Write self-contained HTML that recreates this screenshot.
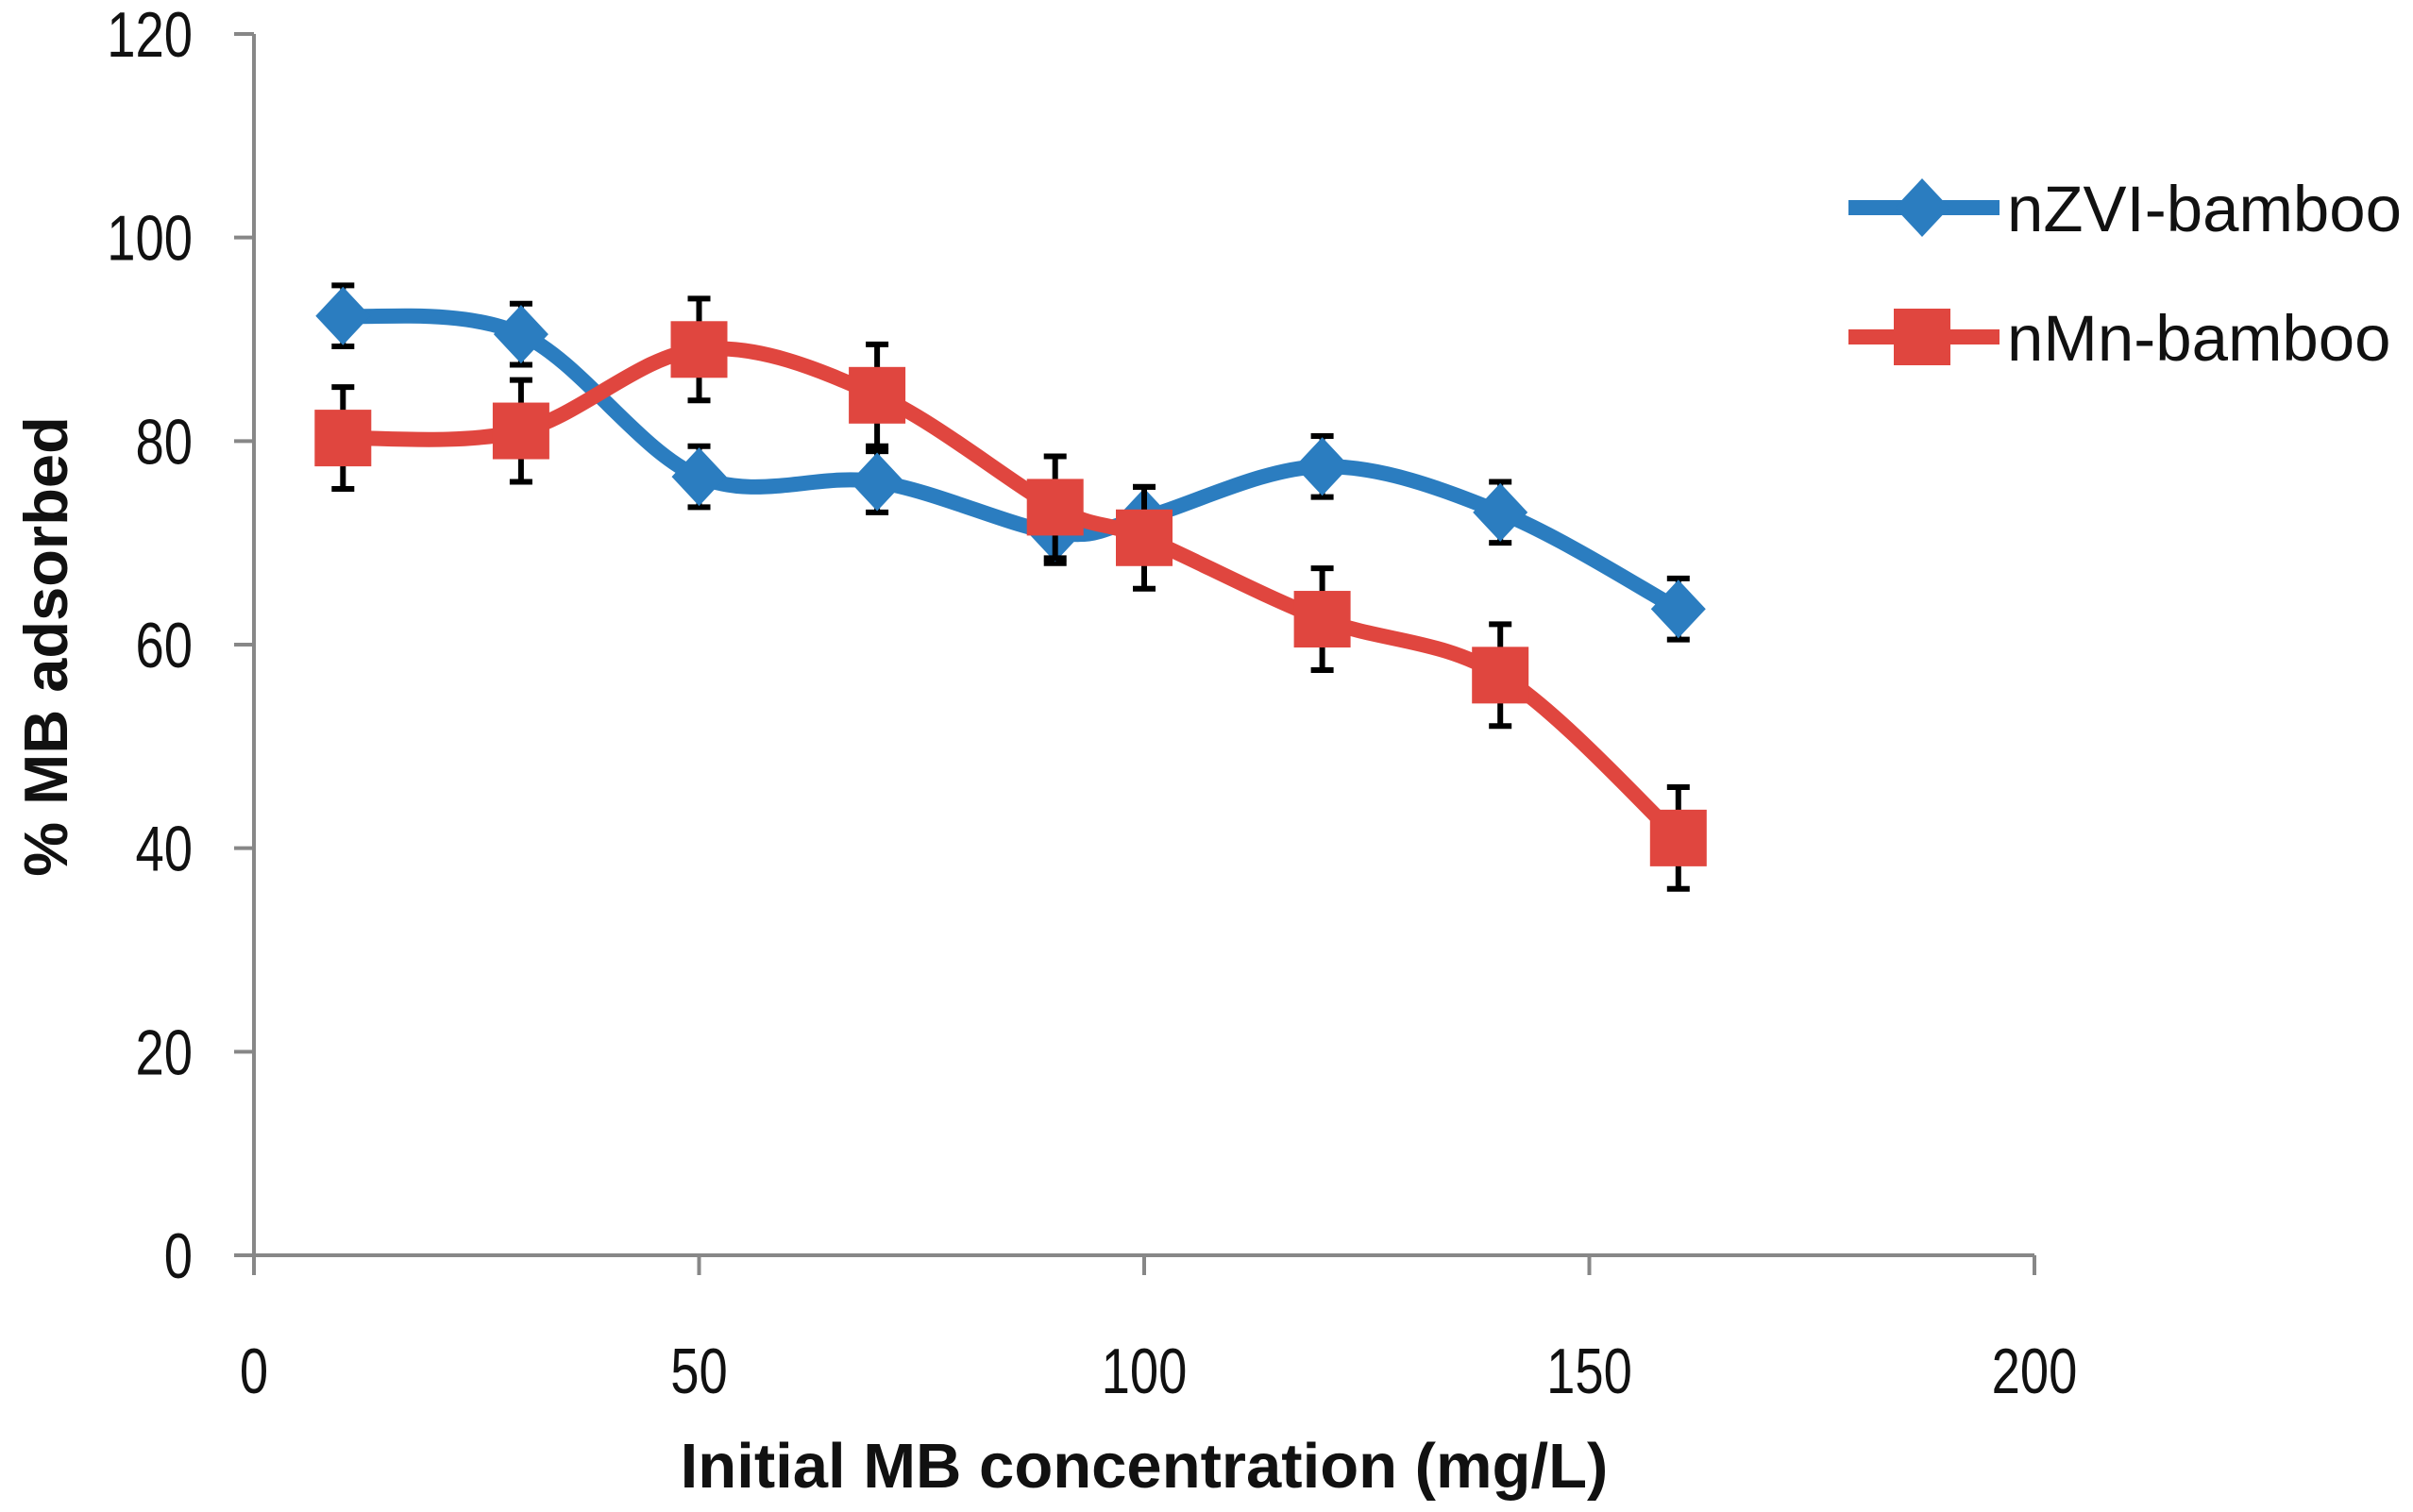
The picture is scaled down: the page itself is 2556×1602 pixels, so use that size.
<!DOCTYPE html>
<html><head><meta charset="utf-8"><style>
html,body{margin:0;padding:0;background:#fff;}
svg{display:block;font-family:"Liberation Sans Narrow","Liberation Sans",sans-serif;}
</style></head><body>
<svg id="chart" width="2556" height="1602" viewBox="0 0 2556 1602" xmlns="http://www.w3.org/2000/svg"></svg>
<script>
const xValues = [10, 30, 50, 70, 90, 100, 120, 140, 160];
const nzviValues = [92.3, 90.5, 76.5, 76, 71, 72.5, 77.5, 73, 63.5];
const nzviErrors = [3, 3, 3, 3, 3, 3, 3, 3, 3];
const nmnValues = [80.3, 81, 89, 84.5, 73.5, 70.5, 62.5, 57, 41];
const nmnErrors = [5, 5, 5, 5, 5, 5, 5, 5, 5];
const xTicks = [0, 50, 100, 150, 200];
const yTicks = [0, 20, 40, 60, 80, 100, 120];

const NS = "http://www.w3.org/2000/svg";
const svg = document.getElementById("chart");
const X0 = 269, X1 = 2155, Y0 = 1330, Y1 = 36;
const xs = v => X0 + (v / 200) * (X1 - X0);
const ys = v => Y0 - (v / 120) * (Y0 - Y1);
function mk(tag, attrs, parent) {
  const e = document.createElementNS(NS, tag);
  for (const k in attrs) e.setAttribute(k, attrs[k]);
  (parent || svg).appendChild(e);
  return e;
}
const axisColor = "#878787";
const yAxis = mk("line", {x1: X0, y1: Y1, x2: X0, y2: Y0, stroke: axisColor, "stroke-width": 4});


const xAxis = mk("line", {x1: X0, y1: Y0, x2: X1, y2: Y0, stroke: axisColor, "stroke-width": 4});


yTicks.forEach(t => {
  const y = ys(t);
  const tk = mk("line", {x1: X0 - 21, y1: y, x2: X0, y2: y, stroke: axisColor, "stroke-width": 4});
  
  
  const tl = mk("text", {x: 0, y: 0, "text-anchor": "end", "font-size": 68, fill: "#111", transform: `translate(204,${y + 24}) scale(0.8,1)`});
  tl.textContent = t;
  
  
});
xTicks.forEach(t => {
  const x = xs(t);
  const tk = mk("line", {x1: x, y1: Y0, x2: x, y2: Y0 + 21, stroke: axisColor, "stroke-width": 4});
  
  
  const tl = mk("text", {x: 0, y: 0, "text-anchor": "middle", "font-size": 68, fill: "#111", transform: `translate(${x},1476) scale(0.8,1)`});
  tl.textContent = t;
  
  
});
const xt = mk("text", {x: 1212, y: 1576, "text-anchor": "middle", "font-size": 67, "font-weight": "bold", fill: "#111"});
xt.textContent = "Initial MB concentration (mg/L)";


const yt = mk("text", {x: 0, y: 0, "text-anchor": "middle", "font-size": 65, "font-weight": "bold", fill: "#111", transform: "translate(71,685) rotate(-90)"});
yt.textContent = "% MB adsorbed";



function smoothPath(pts) {
  let d = `M${pts[0][0]},${pts[0][1]}`;
  for (let i = 0; i < pts.length - 1; i++) {
    const p0 = pts[i - 1] || pts[i], p1 = pts[i], p2 = pts[i + 1], p3 = pts[i + 2] || p2;
    const t = 1 / 6;
    const c1 = [p1[0] + (p2[0] - p0[0]) * t, p1[1] + (p2[1] - p0[1]) * t];
    const c2 = [p2[0] - (p3[0] - p1[0]) * t, p2[1] - (p3[1] - p1[1]) * t];
    d += ` C${c1[0]},${c1[1]} ${c2[0]},${c2[1]} ${p2[0]},${p2[1]}`;
  }
  return d;
}
function series(vals, errs, color, marker, name) {
  const g = mk("g", {});
  
  
  const pts = xValues.map((x, i) => [xs(x), ys(vals[i])]);
  const p = mk("path", {d: smoothPath(pts), fill: "none", stroke: color, "stroke-width": 16, "stroke-linejoin": "round"}, g);
  
  
  xValues.forEach((x, i) => {
    const cx = xs(x);
    const yt = ys(vals[i] + errs[i]), yb = ys(vals[i] - errs[i]);
    const eb = mk("path", {d: `M${cx},${yt} V${yb} M${cx - 12},${yt} H${cx + 12} M${cx - 12},${yb} H${cx + 12}`, stroke: "#000", "stroke-width": 6, fill: "none"}, g);
    
    
  });
  xValues.forEach((x, i) => {
    const cx = xs(x), cy = ys(vals[i]);
    let m;
    if (marker === "diamond") m = mk("path", {d: `M${cx},${cy - 31} L${cx + 29},${cy} L${cx},${cy + 31} L${cx - 29},${cy} Z`, fill: color}, g);
    else m = mk("rect", {x: cx - 30, y: cy - 30, width: 60, height: 60, fill: color}, g);
    
    
  });
}
const blue = "#2b7dc0", red = "#e0463f";
series(nzviValues, nzviErrors, blue, "diamond", "nzvi-bamboo");
series(nmnValues, nmnErrors, red, "square", "nmn-bamboo");

function legend(y, color, marker, label, name) {
  const g = mk("g", {});
  
  
  mk("line", {x1: 1958, y1: y, x2: 2118, y2: y, stroke: color, "stroke-width": 16}, g);
  const cx = 2036;
  if (marker === "diamond") mk("path", {d: `M${cx},${y - 31} L${cx + 29},${y} L${cx},${y + 31} L${cx - 29},${y} Z`, fill: color}, g);
  else mk("rect", {x: cx - 30, y: y - 30, width: 60, height: 60, fill: color}, g);
  const t = mk("text", {x: 2126, y: y + 25, "font-size": 69, fill: "#111"}, g);
  t.textContent = label;
}
legend(220, blue, "diamond", "nZVI-bamboo", "nzvi");
legend(357, red, "square", "nMn-bamboo", "nmn");
</script>
</body></html>
